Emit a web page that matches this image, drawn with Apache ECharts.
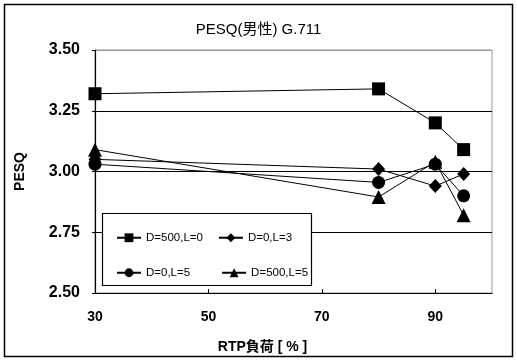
<!DOCTYPE html>
<html>
<head>
<meta charset="utf-8">
<script src="https://cdn.jsdelivr.net/npm/echarts@6/dist/echarts.min.js"></script>
<style>html,body{margin:0;padding:0;background:#fff;}#c{width:517px;height:361px;}</style>
</head>
<body>
<div id="c"></div>
<script>
const xValues = [30, 80, 90, 95];
const seriesNames = ['D=500,L=0', 'D=0,L=3', 'D=0,L=5', 'D=500,L=5'];
const sD500L0 = [3.32, 3.34, 3.20, 3.09];
const sD0L3 = [3.05, 3.01, 2.94, 2.99];
const sD0L5 = [3.03, 2.955, 3.03, 2.90];
const sD500L5 = [3.09, 2.895, 3.04, 2.82];
const xTicks = [30, 50, 70, 90];
const yTicks = [2.50, 2.75, 3.00, 3.25, 3.50];
const titleText = 'PESQ(男性) G.711';
const xName = 'RTP負荷 [ % ]';
const yName = 'PESQ';

const font = '"Liberation Sans", Arial, "Noto Sans CJK JP", sans-serif';
const symbols = ['rect', 'diamond', 'circle', 'triangle'];
const sizes = [[13, 13], [13, 14], [13, 13], [14, 14]];
const allData = [sD500L0, sD0L3, sD0L5, sD500L5];

const chart = echarts.init(document.getElementById('c'), null, {renderer: 'canvas'});
chart.setOption({
  animation: false,
  backgroundColor: '#fff',
  title: {
    text: titleText, left: 'center', top: 17,
    textStyle: {fontFamily: font, fontSize: 15, fontWeight: 'normal', color: '#000'}
  },
  graphic: [
    {type: 'rect', shape: {x: 4.5, y: 4.5, width: 508, height: 352}, style: {fill: 'none', stroke: '#000', lineWidth: 1.5}, z: 0},
    {type: 'rect', shape: {x: 102.5, y: 213.5, width: 209, height: 72}, style: {fill: '#fff', stroke: '#000', lineWidth: 1.2}, z: 10}
  ],
  legend: [
    {
      data: seriesNames.slice(0, 2), left: 111, top: 227, itemGap: 15,
      itemWidth: 24, itemHeight: 11, z: 20,
      textStyle: {fontFamily: font, fontSize: 11.5, color: '#000'}
    },
    {
      data: seriesNames.slice(2, 4), left: 111, top: 262, itemGap: 31,
      itemWidth: 24, itemHeight: 11, z: 20,
      textStyle: {fontFamily: font, fontSize: 11.5, color: '#000'}
    }
  ],
  grid: {left: 95, right: 25, top: 50, bottom: 68, show: true, borderColor: '#999', borderWidth: 1},
  xAxis: {
    type: 'value', min: 30, max: 100,
    name: xName, nameLocation: 'middle', nameGap: 47,
    nameTextStyle: {fontFamily: font, fontSize: 14, fontWeight: 'bold', color: '#000', padding: [0, 62, 0, 0]},
    axisLine: {show: true, lineStyle: {color: '#000', width: 1.2}},
    axisTick: {show: true, inside: true, length: 4, customValues: xTicks, lineStyle: {color: '#000'}},
    axisLabel: {customValues: xTicks, margin: 17, fontFamily: font, fontSize: 14, fontWeight: 'bold', color: '#000'},
    splitLine: {show: false}
  },
  yAxis: {
    type: 'value', min: 2.5, max: 3.5, interval: 0.25,
    name: yName, nameLocation: 'middle', nameGap: 68, nameRotate: 90,
    nameTextStyle: {fontFamily: font, fontSize: 14, fontWeight: 'bold', color: '#000'},
    axisLine: {show: true, lineStyle: {color: '#000', width: 1.2}},
    axisTick: {show: true, length: 3, lineStyle: {color: '#000'}},
    axisLabel: {margin: 15, fontFamily: font, fontSize: 16, fontWeight: 'bold', color: '#000',
      formatter: v => v.toFixed(2)},
    splitLine: {show: true, lineStyle: {color: ['#000', '#000', '#000', '#000', '#999'], width: 1}}
  },
  series: seriesNames.map((n, i) => ({
    name: n, type: 'line',
    data: xValues.map((x, j) => [x, allData[i][j]]),
    symbol: symbols[i], symbolSize: sizes[i],
    itemStyle: {color: '#000', borderWidth: 0},
    lineStyle: {color: '#000', width: 1},
    z: 5
  }))
});
</script>
</body>
</html>
